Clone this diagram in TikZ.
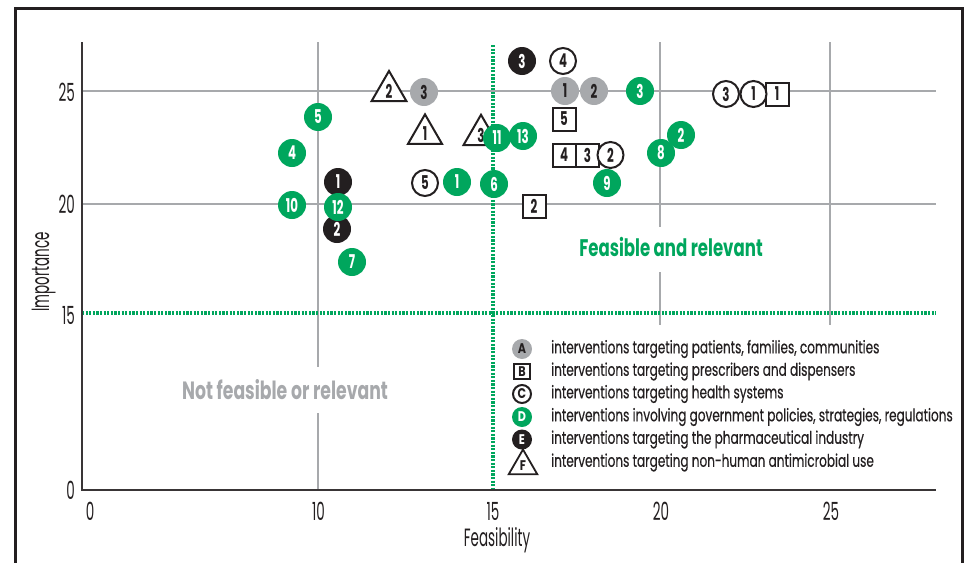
\documentclass[tikz,border=0pt]{standalone}
\usepackage{fontspec}
\setmainfont{Poppins}[FakeStretch=0.69]
\newfontfamily\tickfam{Poppins}[FakeStretch=0.54]
\newfontfamily\numfam{Poppins}[FakeStretch=0.62]
\newfontfamily\letfam{Poppins}[FakeStretch=0.8]
\newfontfamily\legfam{Poppins}[FakeStretch=0.69,FakeBold=0.4]
\usetikzlibrary{shapes.geometric}
\definecolor{wgreen}{HTML}{00A65D}
\definecolor{wgray}{HTML}{A7A9AC}
\definecolor{wblack}{HTML}{231F20}
\newcommand\mkfont{\numfam\fontsize{19}{19}\selectfont\bfseries}
\newcommand\lgfont{\legfam\fontsize{17.5}{19}\selectfont}
\newcommand\tkfont{\tickfam\fontsize{25}{26}\selectfont}
\newcommand\lfont{\letfam\fontsize{14}{14}\selectfont\bfseries}
\newcommand\zfont{\fontsize{24}{26}\selectfont\bfseries}
\newcommand\zzfont{\fontsize{25}{26}\selectfont\bfseries}
\begin{document}
\begin{tikzpicture}[x=1pt,y=-1pt,
 mk/.style={circle,inner sep=0pt,minimum size=28pt,font=\mkfont},
 gc/.style={mk,fill=wgreen,text=white},
 gy/.style={mk,fill=wgray,text=wblack},
 bc/.style={mk,fill=wblack,text=white},
 wc/.style={mk,draw=wblack,line width=2pt,fill=white,text=wblack,minimum size=26pt},
 sq/.style={rectangle,draw=wblack,line width=2pt,fill=white,inner sep=0pt,minimum size=23pt,font=\mkfont,text=wblack},
 tri/.style={regular polygon,regular polygon sides=3,draw=wblack,line width=2pt,fill=white,inner sep=0pt,minimum size=37pt,font=\mkfont,text=wblack},
 lmk/.style={circle,inner sep=0pt,minimum size=20pt,font=\lfont},
 gridline/.style={wgray,line width=1.5pt},
 axisline/.style={wblack!90,line width=2pt},
 gdot/.style={wgreen,line width=4pt,dash pattern=on 2.2pt off 1.4pt},
 ticklab/.style={font=\tkfont,text=wblack,inner sep=0pt},
 legtext/.style={font=\lgfont,text=wblack,anchor=west,inner sep=0pt}
]
\useasboundingbox (0,0) rectangle (973,562);
\clip (0,0) rectangle (973,562);
% frame
\draw[wblack,line width=2.7pt] (15.5,8.3) rectangle (962.5,620);
% grid
\draw[gridline] (82,91) -- (936,91);
\draw[gridline] (82,204) -- (936,204);
\draw[gridline] (318,42) -- (318,367);
\draw[gridline] (318,413) -- (318,490);
\draw[gridline] (660,42) -- (660,227);
\draw[gridline] (660,272) -- (660,325);
\draw[gridline] (830,42) -- (830,325);
% threshold lines
\draw[gdot] (82,313) -- (936,313);
\draw[gdot] (493,45) -- (493,490);
% axes
\draw[axisline] (82,42) -- (82,490) -- (936,490);
% tick labels
\node[ticklab] (x0) at (90,511) {0};
\node[ticklab] (x10) at (318.5,511) {10};
\node[ticklab] (x15) at (493,511) {15};
\node[ticklab] (x20) at (661,511) {20};
\node[ticklab] (x25) at (831,511) {25};
\node[ticklab,anchor=east] (y25) at (75,92) {25};
\node[ticklab,anchor=east] (y20) at (75,204) {20};
\node[ticklab,anchor=east] (y15) at (75,315) {15};
\node[ticklab,anchor=east] (y0) at (75,490) {0};
\node[ticklab,anchor=base] (xlab) at (497,546) {Feasibility};
\node[ticklab,anchor=base,rotate=90] (ylab) at (49,272) {Importance};
% zone labels
\node[font=\zfont,text=wgreen,inner sep=0pt] (zin) at (671,247) {Feasible and relevant};
\node[font=\zzfont,text=wgray,inner sep=0pt] (zout) at (285,390) {Not feasible or relevant};
% triangles
\node[tri] (t2) at (389,91) {2};
\node[tri] (t1) at (425,134) {1};
\node[tri] (t3) at (481,135) {3};
% squares
\node[sq] (s1) at (777,94) {1};
\node[sq] (s5) at (564,119) {5};
\node[sq] (s4) at (564,155) {4};
\node[sq] (s3) at (587.5,155) {3};
\node[sq] (s2) at (534,206.5) {2};
% white circles
\node[wc] (w5) at (425,183) {5};
\node[wc] (w4) at (563,61) {4};
\node[wc] (w2) at (610.5,155) {2};
\node[wc] (w3) at (726,94) {3};
\node[wc] (w1) at (753.5,94) {1};
% gray
\node[gy] (a3) at (424,92) {3};
\node[gy] (a1) at (565,91) {1};
\node[gy] (a2) at (594,91) {2};
% black
\node[bc] (e1) at (338,182) {1};
\node[bc] (e2) at (337,229) {2};
\node[bc] (e3) at (522,61) {3};
% green
\node[gc] (d5) at (318,117) {5};
\node[gc] (d4) at (292,153) {4};
\node[gc] (d10) at (292,205) {10};
\node[gc] (d12) at (338,207) {12};
\node[gc] (d7) at (352,262) {7};
\node[gc] (d1) at (457,182) {1};
\node[gc] (d6) at (494,184) {6};
\node[gc] (d13) at (523,136) {13};
\node[gc] (d11) at (497,138) {11};
\node[gc] (d3) at (640,91) {3};
\node[gc] (d2) at (681,135) {2};
\node[gc] (d8) at (661,153) {8};
\node[gc] (d9) at (607,183) {9};
% legend
\node[lmk,fill=wgray,text=wblack] (la) at (522,349) {A};
\node[rectangle,draw=wblack,line width=1.7pt,fill=white,inner sep=0pt,minimum width=16pt,minimum height=15pt,font=\lfont,text=wblack] (lb) at (522,371.5) {B};
\node[lmk,draw=wblack,line width=2pt,fill=white,text=wblack,minimum size=18pt] (lc) at (522,394) {C};
\node[lmk,fill=wgreen,text=white] (ld) at (522,417) {D};
\node[lmk,fill=wblack,text=white] (le) at (522,439.5) {E};
\node[regular polygon,regular polygon sides=3,draw=wblack,line width=1.8pt,fill=white,inner sep=0pt,minimum size=33pt,font=\lfont,text=wblack] (lf) at (523,466) {F};
\node[legtext] (ta) at (551,349) {interventions targeting patients, families, communities};
\node[legtext] (tb) at (551,371.5) {interventions targeting prescribers and dispensers};
\node[legtext] (tc) at (551,394) {interventions targeting health systems};
\node[legtext] (td) at (551,417) {interventions involving government policies, strategies, regulations};
\node[legtext] (te) at (551,439.5) {interventions targeting the pharmaceutical industry};
\node[legtext] (tf) at (551,462.5) {interventions targeting non-human antimicrobial use};
\end{tikzpicture}
\end{document}
